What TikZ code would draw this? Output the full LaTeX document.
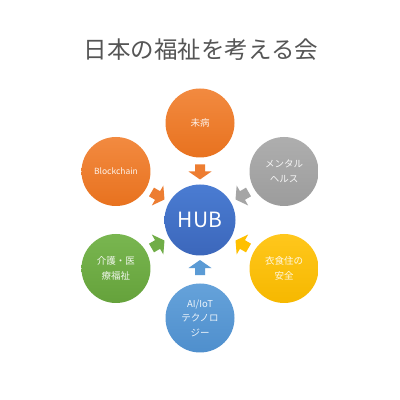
\documentclass[tikz,border=0pt]{standalone}
\usepackage{fontspec}
\setmainfont{Noto Sans CJK JP}
\usetikzlibrary{calc}
\definecolor{orT}{HTML}{F28A40}\definecolor{orB}{HTML}{E8721F}\definecolor{orA}{HTML}{ED7D31}
\definecolor{grT}{HTML}{AEAEAE}\definecolor{grB}{HTML}{9C9C9C}\definecolor{grA}{HTML}{A5A5A5}
\definecolor{yeT}{HTML}{FFC71C}\definecolor{yeB}{HTML}{F6B800}\definecolor{yeA}{HTML}{FFC000}
\definecolor{gnT}{HTML}{79B650}\definecolor{gnB}{HTML}{65A23B}\definecolor{gnA}{HTML}{70AD47}
\definecolor{lbT}{HTML}{65A2DA}\definecolor{lbB}{HTML}{4F8FCD}\definecolor{lbA}{HTML}{5B9BD5}
\definecolor{hbT}{HTML}{4A7CD2}\definecolor{hbB}{HTML}{3C67BB}
\definecolor{titlegray}{HTML}{555555}
\tikzset{
  outer/.style={circle, minimum size=69pt, inner sep=0pt, text=white, text opacity=0.9, align=center,
    font=\fontsize{9.5}{15}\selectfont},
  hubcircle/.style={circle, minimum size=71pt, inner sep=0pt, text=white,
    top color=hbT, bottom color=hbB, font=\fontsize{21}{24}\selectfont},
  blockarrow/.pic={\path[pic actions] (-7.5,-5) -- (-0.5,-5) -- (-0.5,-11.5) -- (7.5,0)
    -- (-0.5,11.5) -- (-0.5,5) -- (-7.5,5) -- cycle;}
}
\begin{document}
\begin{tikzpicture}[x=1pt,y=1pt]
\useasboundingbox[fill=white] (0,0) rectangle (400,400);
\node[text=titlegray, font=\fontsize{23.5}{26}\selectfont] (title) at (201,350) {日本の福祉を考える会};
\node[hubcircle] (hub) at (200,180) {HUB};
\node[outer, top color=orT, bottom color=orB] (mibyo) at ($(hub)+(90:97)$) {未病};
\node[outer, top color=orT, bottom color=orB, font=\fontsize{8.5}{15}\selectfont] (block) at ($(hub)+(150:97)$) {Blockchain};
\node[outer, top color=grT, bottom color=grB] (mental) at ($(hub)+(30:97)$) {メンタル\\ヘルス};
\node[outer, top color=gnT, bottom color=gnB] (kaigo) at ($(hub)+(210:97)$) {介護・医\\療福祉};
\node[outer, top color=yeT, bottom color=yeB] (ishoku) at ($(hub)+(330:97)$) {衣食住の\\安全};
\node[outer, top color=lbT, bottom color=lbB, font=\fontsize{9.5}{14.5}\selectfont] (ai) at ($(hub)+(270:98)$) {AI/IoT\\テクノロ\\ジー};
\pic[fill=orA, rotate=270] (a1) at ($(hub)!0.495!(mibyo)$) {blockarrow};
\pic[fill=orA, rotate=330] (a2) at ($(hub)!0.5!(block)$) {blockarrow};
\pic[fill=grA, rotate=210] (a3) at ($(hub)!0.5!(mental)$) {blockarrow};
\pic[fill=gnA, rotate=30] (a4) at ($(hub)!0.5!(kaigo)$) {blockarrow};
\pic[fill=yeA, rotate=150] (a5) at ($(hub)!0.5!(ishoku)$) {blockarrow};
\pic[fill=lbA, rotate=90] (a6) at ($(hub)!0.485!(ai)$) {blockarrow};
\end{tikzpicture}
\end{document}
